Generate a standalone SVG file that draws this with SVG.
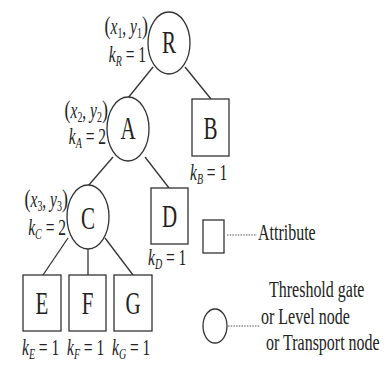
<svg xmlns="http://www.w3.org/2000/svg" width="389" height="369" viewBox="0 0 389 369">
<style>
.n{fill:#fff;stroke:#333;stroke-width:1.3}
.e{stroke:#333;stroke-width:1.3;fill:none}
.t{font-family:"Liberation Serif","Times New Roman",serif;fill:#222}
.L{font-size:21px;text-anchor:middle}
.m{font-size:16px}
.k{font-size:15.5px}
.i{font-style:italic}
.s{font-size:10px}
.p{font-size:18px}
.d{stroke:#555;stroke-width:1.2;stroke-dasharray:1.5 1.2;fill:none}
</style>
<rect width="389" height="369" fill="#fff"/>
<g id="connectors">
<line class="e" x1="153" y1="67" x2="128" y2="98"/>
<line class="e" x1="185" y1="67" x2="211" y2="99"/>
<line class="e" x1="113" y1="157" x2="88" y2="186"/>
<line class="e" x1="145" y1="157" x2="169" y2="188"/>
<line class="e" x1="68" y1="238" x2="43" y2="275"/>
<line class="e" x1="88" y1="249" x2="88" y2="275"/>
<line class="e" x1="105" y1="238" x2="133" y2="275"/>
</g>
<g id="R">
<ellipse class="n" cx="169" cy="43" rx="21" ry="31"/>
<text class="t L" transform="translate(169 53) scale(1 1.55)">R</text>
<text class="t k" text-anchor="end" transform="translate(148 34) scale(1 1.45)"><tspan class="p">(</tspan><tspan class="i">x</tspan><tspan class="s" dy="2.5">1</tspan><tspan dy="-2.5">, </tspan><tspan class="i">y</tspan><tspan class="s" dy="2.5">1</tspan><tspan class="p" dy="-2.5">)</tspan></text>
<text class="t k" text-anchor="end" transform="translate(146 62) scale(1 1.45)"><tspan class="i">k</tspan><tspan class="i s" dy="2.5">R</tspan><tspan dy="-2.5"> = 1</tspan></text>
</g>
<g id="A">
<ellipse class="n" cx="128" cy="129" rx="21" ry="32"/>
<text class="t L" transform="translate(128 139) scale(1 1.55)">A</text>
<text class="t k" text-anchor="end" transform="translate(108 118) scale(1 1.45)"><tspan class="p">(</tspan><tspan class="i">x</tspan><tspan class="s" dy="2.5">2</tspan><tspan dy="-2.5">, </tspan><tspan class="i">y</tspan><tspan class="s" dy="2.5">2</tspan><tspan class="p" dy="-2.5">)</tspan></text>
<text class="t k" text-anchor="end" transform="translate(106 144) scale(1 1.45)"><tspan class="i">k</tspan><tspan class="i s" dy="2.5">A</tspan><tspan dy="-2.5"> = 2</tspan></text>
</g>
<g id="B">
<rect class="n" x="192" y="99" width="37" height="57"/>
<text class="t L" transform="translate(210.5 139) scale(1 1.55)">B</text>
<text class="t k" transform="translate(190 180) scale(1 1.45)"><tspan class="i">k</tspan><tspan class="i s" dy="2.5">B</tspan><tspan dy="-2.5"> = 1</tspan></text>
</g>
<g id="C">
<ellipse class="n" cx="88" cy="217" rx="21" ry="32"/>
<text class="t L" transform="translate(88 229) scale(1 1.55)">C</text>
<text class="t k" text-anchor="end" transform="translate(68 207) scale(1 1.45)"><tspan class="p">(</tspan><tspan class="i">x</tspan><tspan class="s" dy="2.5">3</tspan><tspan dy="-2.5">, </tspan><tspan class="i">y</tspan><tspan class="s" dy="2.5">3</tspan><tspan class="p" dy="-2.5">)</tspan></text>
<text class="t k" text-anchor="end" transform="translate(66 235) scale(1 1.45)"><tspan class="i">k</tspan><tspan class="i s" dy="2.5">C</tspan><tspan dy="-2.5"> = 2</tspan></text>
</g>
<g id="D">
<rect class="n" x="151" y="188" width="37" height="56"/>
<text class="t L" transform="translate(169.5 227) scale(1 1.55)">D</text>
<text class="t k" transform="translate(148 265) scale(1 1.45)"><tspan class="i">k</tspan><tspan class="i s" dy="2.5">D</tspan><tspan dy="-2.5"> = 1</tspan></text>
</g>
<g id="E">
<rect class="n" x="23" y="275" width="38" height="56"/>
<text class="t L" transform="translate(42 314) scale(1 1.55)">E</text>
<text class="t k" transform="translate(22 355) scale(1 1.45)"><tspan class="i">k</tspan><tspan class="i s" dy="2.5">E</tspan><tspan dy="-2.5"> = 1</tspan></text>
</g>
<g id="F">
<rect class="n" x="69" y="275" width="37" height="56"/>
<text class="t L" transform="translate(87.5 314) scale(1 1.55)">F</text>
<text class="t k" transform="translate(67 355) scale(1 1.45)"><tspan class="i">k</tspan><tspan class="i s" dy="2.5">F</tspan><tspan dy="-2.5"> = 1</tspan></text>
</g>
<g id="G">
<rect class="n" x="114" y="275" width="38" height="56"/>
<text class="t L" transform="translate(133 314) scale(1 1.55)">G</text>
<text class="t k" transform="translate(112 355) scale(1 1.45)"><tspan class="i">k</tspan><tspan class="i s" dy="2.5">G</tspan><tspan dy="-2.5"> = 1</tspan></text>
</g>
<g id="legend-attribute">
<rect class="n" x="203" y="220" width="21" height="33"/>
<line class="d" x1="227" y1="235" x2="257" y2="235"/>
<text class="t m" transform="translate(258 240) scale(1 1.45)">Attribute</text>
</g>
<g id="legend-gate">
<ellipse class="n" cx="215" cy="326" rx="12" ry="17"/>
<line class="d" x1="228" y1="326" x2="260" y2="326"/>
<text class="t m" transform="translate(269 297) scale(1 1.45)">Threshold gate</text>
<text class="t m" transform="translate(261 324) scale(1 1.45)">or Level node</text>
<text class="t m" transform="translate(266 350) scale(1 1.45)">or Transport node</text>
</g>
</svg>
